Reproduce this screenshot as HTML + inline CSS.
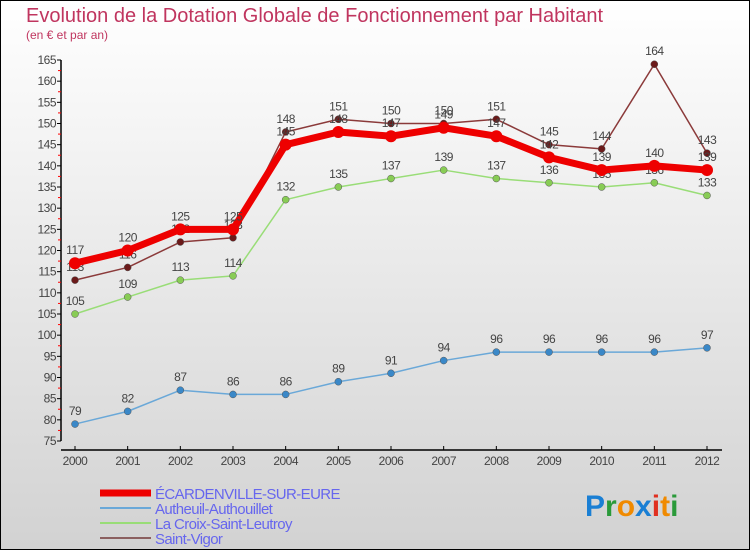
<!DOCTYPE html>
<html><head><meta charset="utf-8"><style>
body{margin:0}
svg{display:block;font-family:"Liberation Sans",sans-serif}
</style></head><body>
<svg width="750" height="550" xmlns="http://www.w3.org/2000/svg">
<defs><linearGradient id="bg" x1="0" y1="0" x2="0" y2="1"><stop offset="0" stop-color="#ffffff"/><stop offset="1" stop-color="#d2d2d2"/></linearGradient></defs>
<rect x="0.5" y="0.5" width="749" height="549" fill="url(#bg)" stroke="#000"/>
<text x="26" y="22" font-size="20" fill="#c0355f">Evolution de la Dotation Globale de Fonctionnement par Habitant</text>
<text x="26" y="39" font-size="12" fill="#c0355f">(en € et par an)</text>
<g id="axes"></g>
<g id="series"></g>
<g id="legend"></g>
<text x="585" y="516" font-size="30" font-weight="bold"><tspan fill="#1a7fd4">P</tspan><tspan fill="#2a9a3a">r</tspan><tspan fill="#f08a00">o</tspan><tspan fill="#1a7fd4">x</tspan><tspan fill="#e03020">i</tspan><tspan fill="#f08a00">t</tspan><tspan fill="#2a9a3a">i</tspan></text>
</svg>
<script>
const years=[2000,2001,2002,2003,2004,2005,2006,2007,2008,2009,2010,2011,2012];
const ecard=[117,120,125,125,145,148,147,149,147,142,139,140,139];
const autheuil=[79,82,87,86,86,89,91,94,96,96,96,96,97];
const croix=[105,109,113,114,132,135,137,139,137,136,135,136,133];
const vigor=[113,116,122,123,148,151,150,150,151,145,144,164,143];
const yTicks=[75,80,85,90,95,100,105,110,115,120,125,130,135,140,145,150,155,160,165];
const NS="http://www.w3.org/2000/svg";
const X=i=>75+i*(707-75)/12;
const Y=v=>441-(v-75)*(381/90);
function mk(tag,attrs,parent,txt){const e=document.createElementNS(NS,tag);for(const k in attrs)e.setAttribute(k,attrs[k]);if(txt!==undefined)e.textContent=txt;parent.appendChild(e);return e;}
const ax=document.getElementById('axes');
let yl=mk('line',{x1:61,y1:Y(165),x2:61,y2:Y(75),stroke:'#000','stroke-width':1.5},ax);


yTicks.forEach(t=>{
 mk('line',{x1:57,y1:Y(t),x2:61,y2:Y(t),stroke:'#000'},ax);
 if(t<165)mk('line',{x1:58,y1:Y(t+2.5),x2:61,y2:Y(t+2.5),stroke:'#f00'},ax);
 let tl=mk('text',{x:56,y:Y(t)+4,'font-size':12,fill:'#444','text-anchor':'end','letter-spacing':'-0.5'},ax,t);
 
 
});
let xl=mk('line',{x1:61,y1:450,x2:722,y2:450,stroke:'#000','stroke-width':1.5},ax);


years.forEach((y,i)=>{
 mk('line',{x1:X(i),y1:446,x2:X(i),y2:450,stroke:'#000'},ax);
 let tl=mk('text',{x:X(i),y:465,'font-size':12,fill:'#444','text-anchor':'middle','letter-spacing':'-0.5'},ax,y);
 
 
});
const ser=document.getElementById('series');
const defs=[
 {d:vigor,c:'#8b3a3a',w:1.5,r:3.5,f:'#6b1a1a',n:'saint-vigor'},
 {d:croix,c:'#99dd77',w:1.5,r:3.5,f:'#88cc55',n:'la-croix-saint-leutroy'},
 {d:autheuil,c:'#6aa8d8',w:1.5,r:3.5,f:'#3a88c8',n:'autheuil-authouillet'},
 {d:ecard,c:'#ee0000',w:7,r:6,f:'#ee0000',n:'ecardenville-sur-eure'}
];
defs.forEach(s=>{
 const g=mk('g',{},ser);
 
 
 let p=mk('polyline',{points:s.d.map((v,i)=>X(i)+','+Y(v)).join(' '),fill:'none',stroke:s.c,'stroke-width':s.w,'stroke-linejoin':'round'},g);
 
 
 s.d.forEach((v,i)=>{
  let c=mk('circle',{cx:X(i),cy:Y(v),r:s.r,fill:s.f,stroke:s.w>2?'none':'#555','stroke-width':0.5},g);
  
  
  let t=mk('text',{x:X(i),y:Y(v)-9,'font-size':12,fill:'#444','text-anchor':'middle','letter-spacing':'-0.5'},g,v);
  
  
 });
});
const lg=document.getElementById('legend');
const li=[['ÉCARDENVILLE-SUR-EURE','#ee0000',7],['Autheuil-Authouillet','#6aa8d8',2],['La Croix-Saint-Leutroy','#99dd77',2],['Saint-Vigor','#8b6060',2]];
li.forEach((l,i)=>{
 const y=493+i*15;
 const g=mk('g',{},lg);
 
 
 mk('line',{x1:100,y1:y,x2:151,y2:y,stroke:l[1],'stroke-width':l[2]},g);
 mk('text',{x:155,y:y+6,'font-size':15,fill:'#6666ee','letter-spacing':'-0.6'},g,l[0]);
});
</script>
</body></html>
